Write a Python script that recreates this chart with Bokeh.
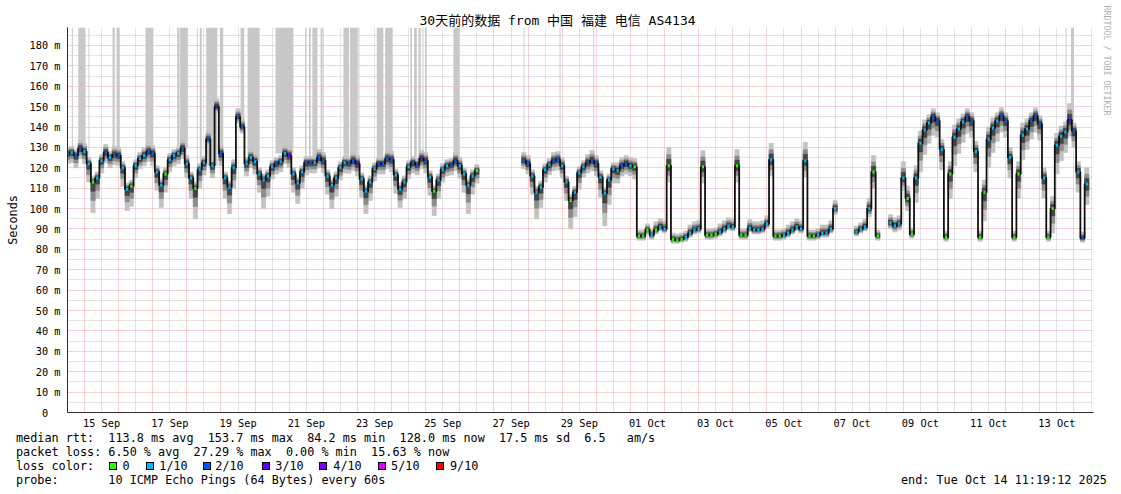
import numpy as np
import pandas as pd
from bokeh.plotting import figure
from bokeh.models import (Range1d, FixedTicker, DatetimeTickFormatter,
                          CustomJSTickFormatter, Grid, Title, Div)
from bokeh.layouts import column
from bokeh.embed import file_html
from bokeh.resources import INLINE

nan = float("nan")

# ------------------------------------------------------------------ data
sample_start = "2025-09-14 12:00"          # 3-hourly samples
median_rtt = [
    127, 127.5, 126, 129.5,                                   # Sep 14 (12h-21h)
    128, 122, 113, 115, 123.5, 127.5, 125, 126.5,             # Sep 15
    126, 120, 109.5, 111, 121, 124.5, 126, 128,               # Sep 16
    127, 118, 111.5, 117, 124, 126, 127, 129.5,               # Sep 17
    122, 115, 110, 119, 122.5, 134, 121, 150,                 # Sep 18
    127, 115, 110.5, 120, 145, 140, 122, 125,                 # Sep 19
    123, 117, 114, 116, 120.5, 122, 123, 127,                 # Sep 20
    126, 117, 112.5, 118, 122.5, 122.5, 122.5, 125,           # Sep 21
    123.5, 116, 111.5, 115, 120, 122.5, 122.3, 123.5,         # Sep 22
    122, 114.5, 108.5, 113, 119.5, 122, 122, 124.5,           # Sep 23
    124, 116.5, 109.5, 113, 120.5, 122.5, 121.5, 124.5,       # Sep 24
    123.5, 115.5, 108.5, 114, 119, 121, 121.5, 123.5,         # Sep 25
    121, 117, 111.5, 116, 118.5, nan, nan, nan,               # Sep 26
    nan, nan, nan, nan, nan, nan, nan, 123.5,                 # Sep 27
    122, 116, 108, 110.5, 119, 121.5, 123.5, 124,             # Sep 28
    121, 113, 104, 108, 117.5, 120.5, 122.5, 123.5,           # Sep 29
    122, 115.5, 107.5, 114, 119.5, 118.5, 121, 122,           # Sep 30
    121, 120.5, 86.5, 86.5, 89.5, 87, 89.5, 91,               # Oct 01
    90, 121, 85, 84.5, 85, 86, 88, 89.5,                      # Oct 02
    90, 120.5, 87, 87, 87.5, 88.5, 90, 91.5,                  # Oct 03
    91, 121, 87, 87, 90.5, 89.5, 89.5, 90,                    # Oct 04
    92.5, 124, 86.5, 86.5, 87, 88, 89.5, 91,                  # Oct 05
    90, 123.5, 86.5, 86.5, 87, 88, 88, 90,                    # Oct 06
    100, nan, nan, nan, nan, 88.5, 90, 91,                    # Oct 07
    100, 118, 86.5, nan, nan, 93, 91.5, 92.5,                 # Oct 08
    115, 105, 87.5, 115, 132, 138.5, 142, 145,                # Oct 09
    143, 129, 86, 117, 135, 139, 142.5, 145,                  # Oct 10
    143, 128, 86, 108, 134, 139.5, 143, 145.5,                # Oct 11
    143, 125, 86, 117, 136, 139, 143, 145.5,                  # Oct 12
    141.5, 115, 86, 100, 131, 135.5, 137.5, 143.5,            # Oct 13
    138, 118, 85.5, 112,                                      # Oct 14 (0h-9h)
]
smoke_down = [
    5, 5, 6, 5,
    6, 9, 15, 10, 6, 5, 5, 5,
    5, 9, 10.5, 10, 6, 5, 5, 5,
    6, 9, 11, 9, 6, 5, 5, 5,
    7, 10, 15, 9, 6, 3, 6, 3,
    6, 10, 13, 10, 3, 3, 6, 5,
    6, 9, 14, 10, 6, 5, 5, 5,
    6, 9, 10, 8, 6, 5, 5, 5,
    6, 9, 11.5, 9, 6, 5, 5, 5,
    6, 9, 11, 9, 6, 5, 5, 5,
    6, 9, 9, 8, 6, 5, 5, 5,
    6, 9, 12, 9, 6, 5, 5, 5,
    6, 9, 14, 9, 6, 0, 0, 0,
    0, 0, 0, 0, 0, 0, 0, 4,
    5, 9, 13, 10, 6, 5, 5, 5,
    6, 9, 14, 12, 8, 5, 5, 5,
    6, 10, 16, 12, 7, 6, 5, 5,
    5, 6, 2, 2, 2, 2, 2, 2,
    2, 8, 2, 1.5, 1.5, 2, 2, 2,
    2, 8, 2, 2, 2, 2, 2, 2,
    2, 8, 2, 2, 2, 2, 2, 2,
    2, 8, 2, 2, 2, 2, 2, 2,
    2, 8, 2, 2, 2, 2, 2, 2,
    3, 0, 0, 0, 0, 2, 2, 2,
    4, 8, 2, 0, 0, 3, 3, 3,
    6, 6, 2, 12, 14, 12, 10, 9,
    8, 10, 2, 12, 14, 12, 10, 8,
    8, 10, 2, 14, 14, 12, 10, 8,
    8, 10, 2, 12, 12, 10, 9, 8,
    8, 10, 2, 12, 14, 12, 10, 8,
    8, 10, 2, 10,
]
smoke_up = [
    3, 3, 3, 4,
    4, 3, 3, 3, 3, 4, 3, 4,
    4, 3, 3, 3, 3, 3, 4, 4,
    4, 3, 3, 3, 3, 3, 3, 4,
    4, 3, 3, 3, 3, 4, 3, 4,
    4, 3, 3, 4, 4, 4, 3, 4,
    4, 3, 3, 3, 3, 3, 3, 4,
    4, 3, 3, 3, 3, 3, 3, 4,
    4, 3, 3, 3, 3, 3, 3, 4,
    4, 3, 3, 3, 3, 3, 3, 4,
    4, 3, 3, 3, 3, 3, 3, 4,
    4, 3, 3, 3, 3, 3, 3, 4,
    4, 3, 3, 3, 3, 0, 0, 0,
    0, 0, 0, 0, 0, 0, 0, 4,
    4, 3, 3, 3, 3, 3, 4, 4,
    4, 3, 3, 3, 3, 3, 4, 5,
    4, 3, 3, 3, 3, 4, 4, 4,
    4, 4, 3, 3, 3, 3, 4, 4,
    4, 9, 3, 3, 3, 3, 4, 4,
    4, 8, 3, 3, 3, 4, 4, 4,
    4, 8, 3, 3, 4, 4, 4, 4,
    4, 8, 3, 3, 3, 4, 4, 4,
    4, 9, 3, 3, 3, 4, 4, 4,
    4, 0, 0, 0, 0, 3, 3, 4,
    5, 8, 3, 0, 0, 4, 4, 4,
    8, 6, 3, 6, 6, 5, 4, 4,
    4, 5, 3, 6, 6, 5, 4, 4,
    4, 5, 3, 6, 6, 5, 4, 4,
    4, 5, 3, 6, 6, 5, 4, 4,
    4, 5, 3, 6, 6, 5, 5, 8,
    4, 5, 3, 8,
]
lost_pings = [
    1, 1, 2, 2,
    1, 1, 0, 1, 1, 2, 1, 2,
    2, 1, 1, 0, 1, 1, 1, 2,
    2, 1, 1, 0, 1, 1, 1, 2,
    1, 1, 0, 1, 1, 2, 1, 3,
    2, 1, 1, 1, 2, 2, 1, 1,
    1, 1, 1, 1, 1, 2, 1, 1,
    3, 1, 1, 1, 2, 2, 1, 2,
    2, 1, 1, 1, 1, 1, 2, 2,
    3, 1, 1, 1, 1, 2, 2, 2,
    2, 1, 1, 1, 1, 2, 2, 4,
    2, 1, 0, 1, 1, 1, 2, 2,
    1, 1, 1, 1, 0, 0, 0, 0,
    0, 0, 0, 0, 0, 0, 0, 2,
    2, 1, 1, 1, 1, 1, 2, 2,
    1, 1, 0, 1, 1, 1, 2, 2,
    2, 1, 1, 1, 1, 1, 2, 2,
    1, 0, 0, 0, 0, 1, 0, 1,
    1, 0, 0, 0, 0, 1, 1, 1,
    1, 0, 0, 0, 0, 1, 1, 1,
    1, 0, 0, 0, 1, 1, 1, 1,
    1, 1, 0, 0, 1, 1, 1, 1,
    1, 1, 0, 0, 1, 1, 1, 1,
    1, 0, 0, 0, 0, 1, 1, 1,
    1, 0, 0, 0, 0, 1, 1, 1,
    1, 0, 0, 1, 1, 1, 1, 2,
    2, 1, 0, 0, 1, 1, 1, 2,
    2, 1, 0, 0, 1, 1, 1, 2,
    2, 1, 0, 0, 1, 1, 2, 2,
    2, 1, 0, 0, 1, 1, 1, 3,
    2, 1, 2, 1,
]
# periods with heavy loss (hours after 2025-09-15 00:00)
loss_bar_start_h = [-8.9, -4.4, 2.8, 19.7, 22.5, 42.9, 65.2, 66.9, 79.0, 81.1,
                    85.6, 95.2, 109.8, 114.7, 134.4, 155.2, 157.9, 160.3, 166.1,
                    182.1, 186.7, 192.6, 205.6, 211.5, 229.2, 231.8, 234.9, 237.7,
                    239.5, 259.5, 308.9, 334.2, 357.9, 690.1, 693.9]
loss_bar_end_h = [-8.2, 0.7, 3.4, 21.3, 24.8, 48.4, 66.6, 72.7, 79.6, 82.5,
                  93.4, 97.6, 112.4, 123.2, 146.9, 155.8, 159.1, 163.8, 167.5,
                  186.0, 191.9, 193.3, 210.2, 216.8, 230.3, 233.7, 236.5, 238.4,
                  240.7, 263.7, 309.5, 334.8, 358.5, 690.7, 696.0]

loss_levels = [0, 1, 2, 3, 4, 5, 9]
loss_labels = ["0", "1/10", "2/10", "3/10", "4/10", "5/10", "9/10"]
loss_colors = ["#26ff00", "#00b8ff", "#0059ff", "#5e00ff", "#7e00ff", "#dd00ff", "#ff0000"]

y_ticks = list(range(0, 190, 10))
title_text = "30天前的数据 from 中国 福建 电信 AS4134"
rtt_stats = [113.8, 153.7, 84.2, 128.0, 17.5]      # avg, max, min, now, sd (ms)
am_per_s = 6.5
loss_stats = [6.50, 27.29, 0.00, 15.63]            # avg, max, min, now (%)
probe_text = "10 ICMP Echo Pings (64 Bytes) every 60s"
end_text = "end: Tue Oct 14 11:19:12 2025"
watermark = "RRDTOOL / TOBI OETIKER"

# ------------------------------------------------------------------ prep
MONO = "DejaVu Sans Mono"
MONO_CJK = "DejaVu Sans Mono, Noto Sans CJK SC"
t = pd.date_range(sample_start, periods=len(median_rtt), freq="3h")
med = np.array(median_rtt, dtype=float)
dn = np.array(smoke_down, dtype=float)
up = np.array(smoke_up, dtype=float)
ok = ~np.isnan(med)
half = pd.Timedelta(hours=1.5)
tt, m, d, u = t[ok], med[ok], dn[ok], up[ok]
cmap = dict(zip(loss_levels, loss_colors))
dash_colors = [cmap[v] for v in np.array(lost_pings)[ok]]

base = pd.Timestamp("2025-09-15 00:00")
PX_DAY = 34.12
x_start = base - pd.Timedelta(days=17 / PX_DAY)
x_end = base + pd.Timedelta(days=(1093 - 84) / PX_DAY)
Y_TOP = 188.8

lb_left = [base + pd.Timedelta(hours=h) for h in loss_bar_start_h]
lb_right = [base + pd.Timedelta(hours=h) for h in loss_bar_end_h]
lb_bottom = []
for s, e in zip(loss_bar_start_h, loss_bar_end_h):
    j = int(round(((s + e) / 2 + 12) / 3))
    while np.isnan(med[min(max(j, 0), len(med) - 1)]):
        j += 1
    lb_bottom.append(med[min(max(j, 0), len(med) - 1)])

# ------------------------------------------------------------------ main plot
p = figure(width=1121, height=431, x_axis_type="datetime",
           x_range=Range1d(x_start, x_end), y_range=Range1d(0, Y_TOP),
           output_backend="svg", toolbar_location=None, title=title_text,
           min_border_left=67, min_border_right=28, min_border_top=27,
           min_border_bottom=19)
p.outline_line_color = None
p.background_fill_color = "white"
p.border_fill_color = "white"

p.title.align = "left"
p.title.offset = 352
p.title.standoff = 0
p.title.text_font = MONO_CJK
p.title.text_font_size = "13px"
p.title.text_font_style = "normal"
p.title.text_color = "black"

p.add_layout(Title(text=watermark, align="left", offset=-22, standoff=16,
                   text_font=MONO, text_font_size="8.3px", text_font_style="normal",
                   text_color="#b0b0b0"), "right")

midnights = [ts.value / 1e6 for ts in pd.date_range("2025-09-15", "2025-10-14", freq="D")]
noons = [ts.value / 1e6 for ts in pd.date_range("2025-09-14 12:00", "2025-10-14 12:00", freq="D")]
label_days = [ts.value / 1e6 for ts in pd.date_range("2025-09-15 12:00", "2025-10-13 12:00", freq="2D")]

RED_GRID = "#eea4a4"
GRAY_GRID = "#c8c8c8"
p.xgrid.ticker = FixedTicker(ticks=midnights)
p.xgrid.grid_line_color = RED_GRID
p.xgrid.grid_line_dash = "1 1"
noon_grid = Grid(dimension=0, ticker=FixedTicker(ticks=noons),
                 grid_line_color=GRAY_GRID, grid_line_dash="1 1")
p.add_layout(noon_grid)
p.ygrid.ticker = FixedTicker(ticks=y_ticks, minor_ticks=[v + 5 for v in y_ticks])
p.ygrid.grid_line_color = RED_GRID
p.ygrid.grid_line_dash = "1 1"
p.ygrid.minor_grid_line_color = GRAY_GRID
p.ygrid.minor_grid_line_dash = "1 1"

fmt = "%d %b"
p.xaxis.ticker = FixedTicker(ticks=label_days)
p.xaxis.formatter = DatetimeTickFormatter(
    microseconds=fmt, milliseconds=fmt, seconds=fmt, minsec=fmt, minutes=fmt,
    hourmin=fmt, hours=fmt, days=fmt, months=fmt, years=fmt)
p.yaxis.ticker = FixedTicker(ticks=y_ticks)
p.yaxis.formatter = CustomJSTickFormatter(
    code="return tick == 0 ? '0\u00a0\u00a0' : tick.toFixed(0) + ' m';")
for ax in (p.xaxis, p.yaxis):
    ax.major_tick_line_color = None
    ax.minor_tick_line_color = None
    ax.major_tick_out = 0
    ax.major_tick_in = 0
    ax.minor_tick_out = 0
    ax.minor_tick_in = 0
    ax.axis_line_color = "#2b2b2b"
    ax.major_label_text_font = MONO
    ax.major_label_text_font_size = "10.3px"
    ax.major_label_text_color = "black"
p.yaxis.major_label_standoff = 7
p.xaxis.major_label_standoff = 4
p.yaxis.axis_label = "Seconds"
p.yaxis.axis_label_text_font = MONO
p.yaxis.axis_label_text_font_size = "11.8px"
p.yaxis.axis_label_text_font_style = "normal"
p.yaxis.axis_label_text_color = "black"
p.yaxis.axis_label_standoff = 7

# loss bars
p.quad(left=lb_left, right=lb_right, bottom=lb_bottom, top=Y_TOP,
       fill_color="#c8c8c8", line_color=None)
# smoke
for frac_d, frac_u, col in [(1.0, 1.0, "#c2c2c2"), (0.6, 0.6, "#8c8c8c"), (0.3, 0.35, "#444444")]:
    p.quad(left=tt - half, right=tt + half, bottom=m - d * frac_d, top=m + u * frac_u,
           fill_color=col, line_color=col, line_width=0.6)
# median
p.step(x=t, y=med, mode="center", line_color="#111111", line_width=1.8)
dash = pd.Timedelta(hours=0.8)
p.segment(x0=tt - dash, y0=m, x1=tt + dash, y1=m, line_color=dash_colors, line_width=3)

# ------------------------------------------------------------------ legend block (HTML)
line1 = ("median rtt:  %.1f ms avg  %.1f ms max  %.1f ms min  %.1f ms now  %.1f ms sd  %.1f   am/s"
         % (*rtt_stats, am_per_s))
line2 = "packet loss: %.2f %% avg  %.2f %% max  %.2f %% min  %.2f %% now" % tuple(loss_stats)
sq_left = [108.6, 145.7, 202.9, 261.8, 318.9, 377.5, 435.7]
lbl_left = [122.5, 159.3, 215.3, 275.3, 333.3, 391.1, 450.0]

LH = 14


def line_div(text, left, row):
    return ('<div style="position:absolute;left:%.1fpx;top:%dpx;">%s</div>'
            % (left, row * LH, text))


parts = [line_div(line1, 16, 0), line_div(line2, 16, 1), line_div("loss color:", 16, 2)]
for sl, ll, lab, col in zip(sq_left, lbl_left, loss_labels, loss_colors):
    parts.append('<div style="position:absolute;box-sizing:border-box;left:%.1fpx;top:%.1fpx;'
                 'width:8px;height:8px;background:%s;border:1px solid #000;"></div>'
                 % (sl, 2 * LH + 3.3, col))
    parts.append(line_div(lab, ll, 2))
parts.append(line_div("probe:       " + probe_text, 16, 3))
parts.append(line_div(end_text, 901, 3))

html = ('<div style="position:relative;width:1121px;height:60px;font-family:\'DejaVu Sans Mono\';'
        'font-size:11.8px;line-height:14px;white-space:pre;color:#000;">'
        + "".join(parts) + "</div>")
info = Div(text=html, width=1121, height=60, margin=(0, 0, 0, 0))

layout = column(p, info)
open("out.html", "w").write(file_html(layout, INLINE))
